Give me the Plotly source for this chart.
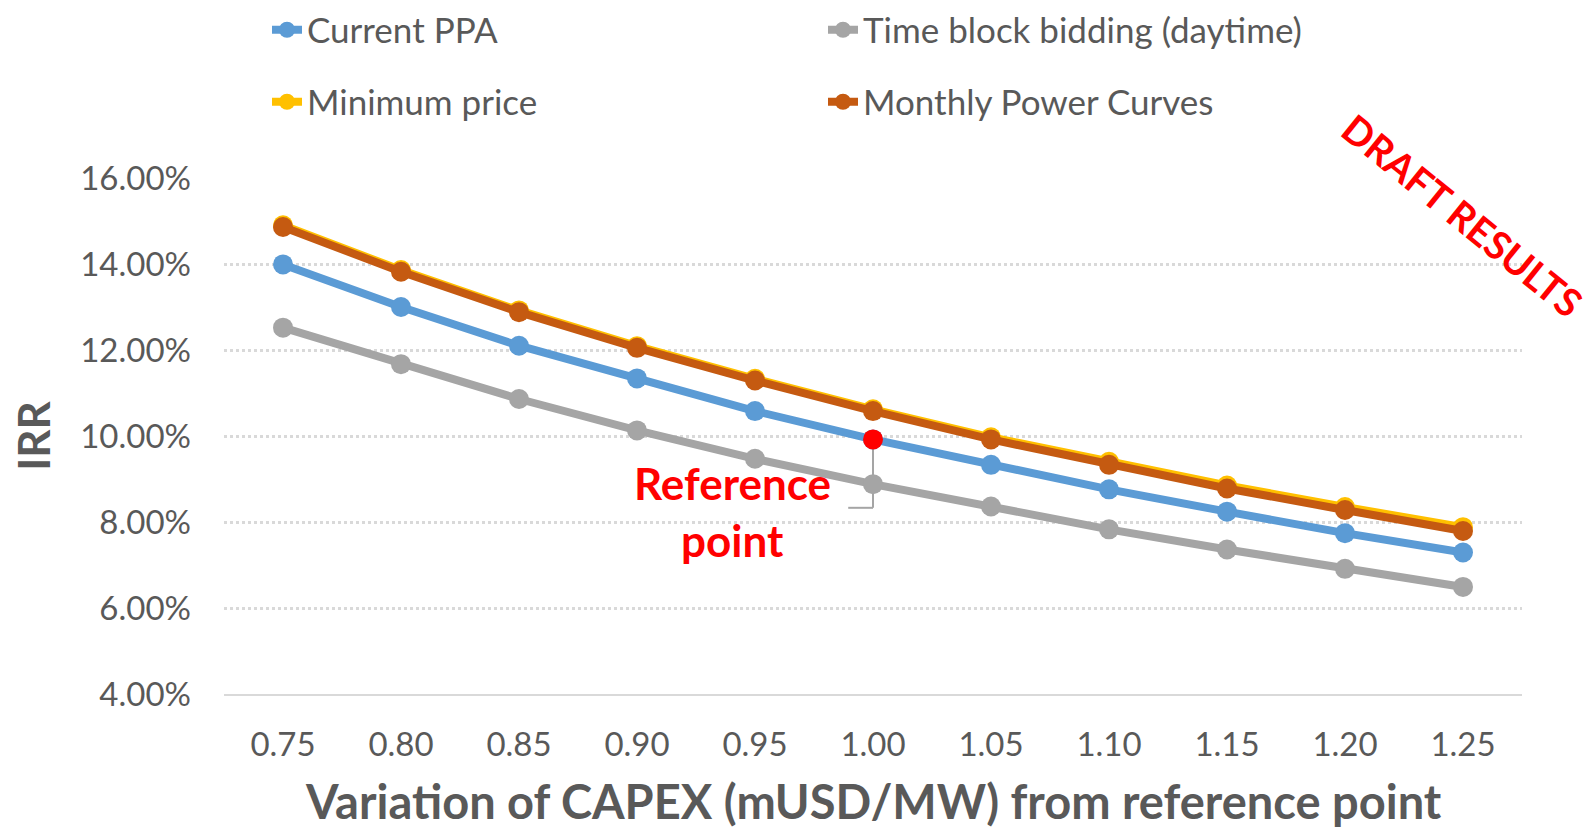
import plotly.graph_objects as go

categories = ["0.75", "0.80", "0.85", "0.90", "0.95", "1.00", "1.05", "1.10", "1.15", "1.20", "1.25"]
current_ppa = [13.99, 13.00, 12.10, 11.34, 10.58, 9.92, 9.33, 8.76, 8.24, 7.74, 7.29]
time_block = [12.52, 11.67, 10.86, 10.13, 9.47, 8.88, 8.36, 7.83, 7.36, 6.91, 6.49]
minimum_price = [14.90, 13.86, 12.92, 12.09, 11.33, 10.62, 9.97, 9.40, 8.85, 8.35, 7.88]
monthly_curves = [14.86, 13.82, 12.88, 12.05, 11.29, 10.58, 9.92, 9.33, 8.78, 8.28, 7.79]
reference_cat = "1.00"
reference_val = 9.92
y_ticks = [4, 6, 8, 10, 12, 14, 16]
x_title = "Variation of CAPEX (mUSD/MW) from reference point"
y_title = "IRR"

FONT = "Lato, 'Open Sans', 'DejaVu Sans', sans-serif"
TXT = "#595959"

def pct(v):
    return [x / 100 for x in v]

fig = go.Figure()
series = [
    ("Current PPA", current_ppa, "#5B9BD5", "legend"),
    ("Time block bidding (daytime)", time_block, "#A5A5A5", "legend"),
    ("Minimum price", minimum_price, "#FFC000", "legend2"),
    ("Monthly Power Curves", monthly_curves, "#C55A11", "legend2"),
]
for name, vals, col, lg in series:
    fig.add_trace(go.Scatter(
        x=categories, y=pct(vals), name=name, mode="lines+markers",
        line=dict(color=col, width=8), marker=dict(color=col, size=20),
        legend=lg))

fig.add_trace(go.Scatter(
    x=[reference_cat], y=[reference_val / 100], mode="markers",
    marker=dict(color="#FF0000", size=20), showlegend=False))

# leader line of the reference point annotation
fig.add_shape(type="line", xref="x", yref="y", x0=5, x1=5,
              y0=reference_val / 100, y1=0.0833, line=dict(color="#A5A5A5", width=2), layer="below")
fig.add_shape(type="line", xref="x", yref="y", x0=5, x1=4.79,
              y0=0.0833, y1=0.0833, line=dict(color="#A5A5A5", width=2), layer="below")

fig.add_annotation(x=3.81, y=0.0891, xref="x", yref="y", text="<b>Reference</b>",
                   showarrow=False, font=dict(family=FONT, size=44, color="#FF0000"))
fig.add_annotation(x=3.81, y=0.0758, xref="x", yref="y", text="<b>point</b>",
                   showarrow=False, font=dict(family=FONT, size=44, color="#FF0000"))

fig.add_annotation(x=0.9538, y=0.928, xref="paper", yref="paper",
                   xanchor="center", yanchor="middle",
                   text="<b>DRAFT RESULTS</b>", textangle=39, showarrow=False,
                   font=dict(family=FONT, size=39, color="#FF0000"))

# x-axis title (bottom of its box kept just inside the figure)
fig.add_annotation(x=0.5, y=(694 - 831) / 516, xref="paper", yref="paper",
                   xanchor="center", yanchor="bottom", showarrow=False,
                   text="<b>" + x_title + "</b>",
                   font=dict(family=FONT, size=47, color=TXT))

legend_common = dict(orientation="h", xref="container", yref="container",
                     xanchor="left", yanchor="middle",
                     font=dict(size=35, color=TXT), entrywidth=511, entrywidthmode="pixels",
                     bgcolor="rgba(0,0,0,0)")

fig.update_layout(
    width=1596, height=833,
    paper_bgcolor="white", plot_bgcolor="white",
    margin=dict(l=224, r=74, t=178, b=139, autoexpand=False),
    font=dict(family=FONT, color=TXT),
    legend=dict(x=267 / 1596, y=1 - 30 / 833, **legend_common),
    legend2=dict(x=267 / 1596, y=1 - 102 / 833, **legend_common),
    xaxis=dict(
        type="category", range=[-0.5, 10.5], showgrid=False,
        showline=True, linecolor="#D9D9D9", linewidth=2,
        tickfont=dict(size=33, color=TXT), ticks="", ticklabelstandoff=20,
        automargin=False,
    ),
    yaxis=dict(
        range=[0.04, 0.16], tickvals=[t / 100 for t in y_ticks], tickformat=".2%",
        showgrid=True, gridcolor="#D9D9D9", gridwidth=2.5, griddash="dot",
        zeroline=False, showline=False, automargin=False,
        tickfont=dict(size=33, color=TXT), ticklabelstandoff=32,
        title=dict(text="<b>" + y_title + "</b>", font=dict(size=44, color=TXT), standoff=15),
    ),
)

fig.write_html("out.html", config={"displayModeBar": False},
               post_script="document.body.style.margin='0';")
